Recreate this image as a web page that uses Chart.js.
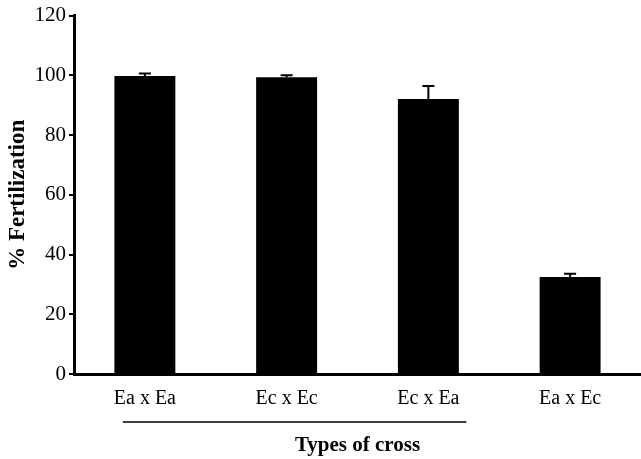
<!DOCTYPE html>
<html>
<head>
<meta charset="utf-8">
<script src="https://cdn.jsdelivr.net/npm/chart.js@4/dist/chart.umd.min.js"></script>
<style>
  html, body { margin: 0; padding: 0; background: #fff; }
</style>
</head>
<body>
<canvas id="chart" width="641" height="459"></canvas>
<script>
// values
const crosses = ['Ea x Ea', 'Ec x Ec', 'Ec x Ea', 'Ea x Ec'];
const fertilization = [99.8, 99.4, 92.1, 32.5];
const fertilizationErr = [0.8, 0.6, 4.3, 1.1];
const yTicks = [0, 20, 40, 60, 80, 100, 120];
const groupedCrosses = [0, 2]; // first..last index under the bracket line

Chart.defaults.font.family = '"Liberation Serif", "DejaVu Serif", serif';
Chart.defaults.color = '#000';

// upward-only error bars with a cap
const errorBars = {
  id: 'errorBars',
  afterDatasetsDraw(chart) {
    const ctx = chart.ctx;
    const yScale = chart.scales.y;
    const meta = chart.getDatasetMeta(0);
    ctx.save();
    ctx.strokeStyle = '#000';
    ctx.lineWidth = 2;
    meta.data.forEach((bar, i) => {
      const top = yScale.getPixelForValue(fertilization[i] + fertilizationErr[i]);
      ctx.beginPath();
      ctx.moveTo(bar.x, bar.y);
      ctx.lineTo(bar.x, top);
      ctx.moveTo(bar.x - 6, top);
      ctx.lineTo(bar.x + 6, top);
      ctx.stroke();
    });
    ctx.restore();
  }
};

// line under the first three cross labels
const groupLine = {
  id: 'groupLine',
  afterDraw(chart) {
    const ctx = chart.ctx;
    const xScale = chart.scales.x;
    const x0 = xScale.getPixelForValue(groupedCrosses[0]) - 22;
    const x1 = xScale.getPixelForValue(groupedCrosses[1]) + 38;
    ctx.save();
    ctx.strokeStyle = '#000';
    ctx.lineWidth = 1.5;
    ctx.beginPath();
    ctx.moveTo(x0, 422);
    ctx.lineTo(x1, 422);
    ctx.stroke();
    ctx.restore();
  }
};

new Chart(document.getElementById('chart'), {
  type: 'bar',
  data: {
    labels: crosses,
    datasets: [{
      data: fertilization,
      backgroundColor: '#000',
      borderWidth: 0,
      categoryPercentage: 1,
      barPercentage: 0.43
    }]
  },
  options: {
    responsive: false,
    animation: false,
    layout: { padding: { top: 15, right: 0, left: 0, bottom: 0 } },
    plugins: {
      legend: { display: false },
      tooltip: { enabled: false }
    },
    scales: {
      x: {
        grid: { display: false, drawTicks: false },
        border: { display: true, color: '#000', width: 3 },
        ticks: { padding: 13, font: { size: 20 } },
        title: {
          display: true,
          text: 'Types of cross',
          font: { size: 21, weight: 'bold' },
          padding: { top: 0, bottom: 1 }
        },
        afterFit(scale) { scale.height = 85; }
      },
      y: {
        min: 0,
        max: 120,
        afterBuildTicks(scale) { scale.ticks = yTicks.map(v => ({ value: v })); },
        grid: { drawOnChartArea: false, drawTicks: true, tickLength: 5, color: '#000', lineWidth: 2 },
        border: { display: true, color: '#000', width: 3 },
        ticks: { padding: 3, font: { size: 21 } },
        title: {
          display: true,
          text: '% Fertilization',
          font: { size: 23, weight: 'bold' },
          padding: { top: 4, bottom: 0 }
        },
        afterFit(scale) { scale.width = 74; }
      }
    }
  },
  plugins: [errorBars, groupLine]
});
</script>
</body>
</html>
